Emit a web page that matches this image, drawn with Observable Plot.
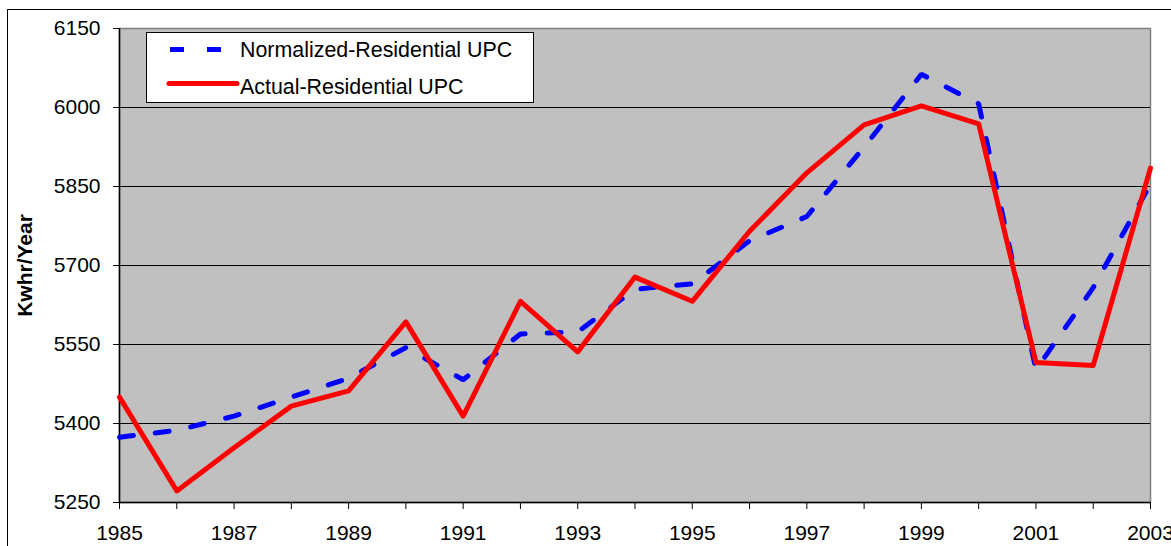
<!DOCTYPE html>
<html>
<head>
<meta charset="utf-8">
<script src="https://cdn.jsdelivr.net/npm/d3@7"></script>
<script src="https://cdn.jsdelivr.net/npm/@observablehq/plot@0.6"></script>
<style>
  html, body { margin: 0; padding: 0; background: #fff; overflow: hidden; }
  #wrap { position: relative; width: 1171px; height: 546px; font-family: Arial, "Liberation Sans", sans-serif; }
  #chart svg { position: absolute; left: 0; top: 0; }
  #border { position: absolute; left: 7px; top: 9px; width: 1180px; height: 560px; border: 1.5px solid #000; pointer-events: none; }
  #legend { position: absolute; left: 146px; top: 32px; width: 388px; height: 71px; background: #fff; border: 1px solid #000; box-sizing: border-box; }
  #legend .t { position: absolute; left: 93px; font-size: 21.4px; color: #000; white-space: nowrap; line-height: 1; }
</style>
</head>
<body>
<div id="wrap">
  <div id="chart"></div>
  <div id="border"></div>
  <div id="legend">
    <svg width="100" height="68" style="position:absolute;left:0;top:0">
      <line x1="23" x2="37" y1="16.5" y2="16.5" stroke="#0000ff" stroke-width="5"/>
      <line x1="60" x2="74" y1="16.5" y2="16.5" stroke="#0000ff" stroke-width="5"/>
      <line x1="22" x2="90" y1="50.5" y2="50.5" stroke="#ff0000" stroke-width="5" stroke-linecap="round"/>
    </svg>
    <div class="t" style="top:7px">Normalized-Residential UPC</div>
    <div class="t" style="top:44px">Actual-Residential UPC</div>
  </div>
</div>
<script>
const years = [1985,1986,1987,1988,1989,1990,1991,1992,1993,1994,1995,1996,1997,1998,1999,2000,2001,2002,2003];
const normalized = [5374,5387,5414,5450,5486,5544,5483,5570,5574,5655,5665,5747,5793,5925,6063,6007,5502,5658,5855];
const actual = [5450,5272,5354,5433,5462,5593,5414,5632,5536,5678,5632,5765,5876,5967,6003,5969,5516,5510,5885];
const yTicks = [5250,5400,5550,5700,5850,6000,6150];
const yTitle = "Kwhr/Year";

const normData = years.map((y, i) => ({year: y, value: normalized[i]}));
const actData = years.map((y, i) => ({year: y, value: actual[i]}));

const plot = Plot.plot({
  width: 1171,
  height: 546,
  marginLeft: 119,
  marginRight: 21,
  marginTop: 28,
  marginBottom: 44,
  style: {fontFamily: "Arial, 'Liberation Sans', sans-serif", fontSize: "21px", color: "#000", background: "transparent", overflow: "visible"},
  x: {domain: [1985, 2003]},
  y: {domain: [5250, 6150]},
  marks: [
    Plot.frame({fill: "#c0c0c0", stroke: "#808080", strokeWidth: 1.5}),
    Plot.ruleY(yTicks.slice(1, -1), {stroke: "#000", strokeWidth: 1}),
    Plot.ruleX([1985], {stroke: "#000", strokeWidth: 1.5}),
    Plot.ruleY([5250], {stroke: "#000", strokeWidth: 1.5}),
    Plot.axisY({ticks: yTicks, tickSize: 6, tickPadding: 13, tickFormat: d => String(d), label: null, fontSize: 21}),
    Plot.axisX({ticks: years, tickSize: 7, tickPadding: 16, tickFormat: d => (d % 2 ? String(d) : ""), label: null, fontSize: 21}),
    Plot.text([yTitle], {frameAnchor: "left", textAnchor: "middle", dx: -94, rotate: -90, fontWeight: "bold", fontSize: 21, fill: "#000"}),
    Plot.line(normData, {x: "year", y: "value", stroke: "#0000ff", strokeWidth: 5, strokeDasharray: "14,22", strokeLinejoin: "miter"}),
    Plot.line(actData, {x: "year", y: "value", stroke: "#ff0000", strokeWidth: 5, strokeLinejoin: "round"})
  ]
});
document.getElementById("chart").appendChild(plot);
</script>
</body>
</html>
